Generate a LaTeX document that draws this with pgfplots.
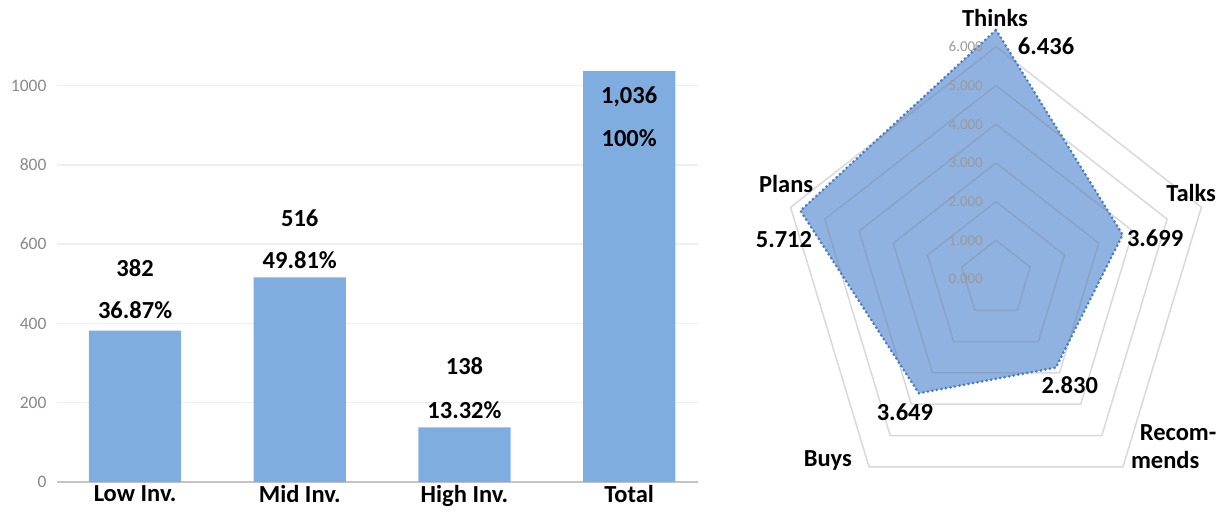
\documentclass[border=0pt]{standalone}
\usepackage{fontspec}
\setmainfont{Carlito}
\usepackage{pgfplots}
\pgfplotsset{compat=1.18}

\definecolor{barblue}{HTML}{7FADE0}
\definecolor{radarfill}{HTML}{8FB2E1}
\definecolor{radaredge}{HTML}{4A7CC6}
\definecolor{gridlight}{HTML}{EFEFEF}
\definecolor{baseline}{HTML}{C4C4C4}
\definecolor{tickgray}{HTML}{888888}
\definecolor{rtickgray}{HTML}{9A9A9A}

\newcommand{\lab}{\fontsize{24.5}{24.5}\selectfont\bfseries}
\tikzset{rtick/.style={anchor=east, font=\fontsize{15}{15}\selectfont, text=rtickgray, inner sep=0pt}}
\pgfplotsset{rgrid/.style={data cs=polar, draw=black!50, draw opacity=0.3, line width=1.5pt, line join=round}}

\begin{document}
\begin{tikzpicture}[x=1pt,y=1pt]
\useasboundingbox (0,0) rectangle (1224,512);

% bar chart
\begin{axis}[
    at={(57pt,30pt)}, anchor=south west,
    scale only axis, width=641pt, height=436.2pt,
    xmin=-0.474, xmax=3.418, ymin=0, ymax=1100,
    ybar, bar width=0.56,
    axis x line*=bottom, axis y line*=left,
    x axis line style={draw=baseline, line width=2.5pt, -},
    y axis line style={draw=none},
    xtick={0,1,2,3},
    xticklabels={Low Inv., Mid Inv., High Inv., Total},
    ytick={0,200,...,1000},
    major tick length=0pt,
    ymajorgrids, grid style={draw=gridlight, line width=1.5pt},
    /pgf/number format/assume math mode=true,
    /pgf/number format/1000 sep={},
    yticklabel style={font=\fontsize{17.5}{17.5}\selectfont, text=tickgray, xshift=-7pt},
    xticklabel style={font=\lab, text=black, yshift=-1pt, inner sep=2pt},
    clip=false,
  ]
\addplot[fill=barblue, draw=none] coordinates {(0,382) (1,516) (2,138) (3,1036)};
\node[font=\lab] at (axis cs:0,540) {382};
\node[font=\lab] at (axis cs:0,434) {36.87\%};
\node[font=\lab] at (axis cs:1,666) {516};
\node[font=\lab] at (axis cs:1,560) {49.81\%};
\node[font=\lab] at (axis cs:2,293) {138};
\node[font=\lab] at (axis cs:2,182) {13.32\%};
\node[font=\lab] at (axis cs:3,971) {1,036};
\node[font=\lab] at (axis cs:3,868) {100\%};
\end{axis}

% radar chart
\begin{axis}[
    at={(996pt,233pt)}, anchor=center,
    scale only axis, width=504pt, height=541.8pt,
    xmin=-7, xmax=7, ymin=-7, ymax=7,
    hide axis, clip=false,
  ]
\addplot[data cs=polar, fill=radarfill, draw=none]
  coordinates {(90,6.436) (18,3.699) (-54,2.830) (-126,3.649) (162,5.712) (90,6.436)};
\addplot[rgrid] coordinates {(90,1) (18,1) (-54,1) (-126,1) (162,1) (90,1)};
\addplot[rgrid] coordinates {(90,2) (18,2) (-54,2) (-126,2) (162,2) (90,2)};
\addplot[rgrid] coordinates {(90,3) (18,3) (-54,3) (-126,3) (162,3) (90,3)};
\addplot[rgrid] coordinates {(90,4) (18,4) (-54,4) (-126,4) (162,4) (90,4)};
\addplot[rgrid] coordinates {(90,5) (18,5) (-54,5) (-126,5) (162,5) (90,5)};
\addplot[rgrid] coordinates {(90,6) (18,6) (-54,6) (-126,6) (162,6) (90,6)};
\addplot[data cs=polar, draw=radaredge, line width=3pt, line cap=round, dash pattern=on 0pt off 4.6pt, line join=round]
  coordinates {(90,6.436) (18,3.699) (-54,2.830) (-126,3.649) (162,5.712) (90,6.436)};

\node[rtick] at (axis cs:-0.36,0) {0.000};
\node[rtick] at (axis cs:-0.36,1) {1.000};
\node[rtick] at (axis cs:-0.36,2) {2.000};
\node[rtick] at (axis cs:-0.36,3) {3.000};
\node[rtick] at (axis cs:-0.36,4) {4.000};
\node[rtick] at (axis cs:-0.36,5) {5.000};
\node[rtick] at (axis cs:-0.36,6) {6.000};

\node[font=\lab] at (axis cs:-0.03,6.74) {Thinks};
\node[font=\lab] at (axis cs:1.39,6.02) {6.436};
\node[font=\lab] at (axis cs:5.42,2.22) {Talks};
\node[font=\lab] at (axis cs:4.42,1.06) {3.699};
\node[font=\lab] at (axis cs:-5.83,2.45) {Plans};
\node[font=\lab] at (axis cs:-5.89,1.01) {5.712};
\node[font=\lab] at (axis cs:-4.67,-4.68) {Buys};
\node[font=\lab] at (axis cs:-2.53,-3.44) {3.649};
\node[font=\lab] at (axis cs:5.06,-3.97) {Recom-};
\node[font=\lab] at (axis cs:4.70,-4.68) {mends};
\node[font=\lab] at (axis cs:2.05,-2.74) {2.830};
\end{axis}
\end{tikzpicture}
\end{document}
